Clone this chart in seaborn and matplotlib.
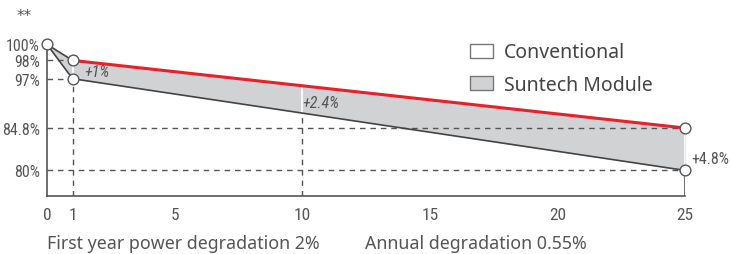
import numpy as np
import pandas as pd
import seaborn as sns
import matplotlib.pyplot as plt
from matplotlib import font_manager
from matplotlib.patches import Patch

# data
years = [0, 1, 25]
suntech = [100, 98, 84.8]
conventional = [100, 97, 80]
gap_labels = ["+1%", "+2.4%", "+4.8%"]
xticks = [0, 1, 5, 10, 15, 20, 25]
yticks = [80, 84.8, 97, 98, 100]
ytick_labels = ["80%", "84.8%", "97%", "98%", "100%"]

# the y axis in the picture is stretched piecewise
scale_vals = [77, 80, 84.8, 97, 98, 100]
scale_px = [0, 25.6, 68, 117.3, 135.6, 151.6]


def fwd(v):
    return np.interp(v, scale_vals, scale_px)


def inv(p):
    return np.interp(p, scale_px, scale_vals)


sns.set_theme(style="white")

installed = {f.name for f in font_manager.fontManager.ttflist}
narrow = "DejaVu Sans"
for cand in ["Roboto Condensed", "Liberation Sans Narrow", "Open Sans Condensed", "Roboto"]:
    if cand in installed:
        narrow = cand
        break
grey = "#555555"
tick_size = 12.5 if narrow != "Roboto" else 10.5
ytick_size = 11.5 if narrow != "Roboto" else 9.5
gap_size = 11.5 if narrow != "Roboto" else 10

fig = plt.figure(figsize=(7.31, 2.55), dpi=100)
ax = fig.add_axes([47 / 731, 58 / 255, 638 / 731, 151.6 / 255])
ax.set_yscale("function", functions=(fwd, inv))
ax.set_xlim(0, 25)
ax.set_ylim(77, 100)

df = pd.DataFrame({"year": years, "suntech": suntech, "conventional": conventional})

ax.fill_between(df["year"], df["suntech"], df["conventional"], color="#d1d2d4", lw=0, zorder=1)

# dashed guides
dash = dict(color=grey, lw=1, ls=(0, (4, 3.5)), zorder=1.5)
ax.plot([0, 1], [98, 98], **dash)
ax.plot([0, 1], [97, 97], **dash)
ax.plot([0, 25], [84.8, 84.8], **dash)
ax.plot([0, 25], [80, 80], **dash)
ax.plot([1, 1], [77, 97], **dash)


# value at a year along the straight drawn lines
def on_line(x, y0, y1):
    return inv(np.interp(x, [1, 25], [fwd(y0), fwd(y1)]))


top10 = on_line(10, suntech[1], suntech[2])
bot10 = on_line(10, conventional[1], conventional[2])
ax.plot([10, 10], [77, bot10], **dash)

# white separators
ax.plot([1, 1], [97, 98], color="white", lw=1.2, zorder=2)
ax.plot([10, 10], [bot10, top10], color="white", lw=1.2, zorder=2)
ax.plot([25, 25], [80, 84.8], color="white", lw=1.2, zorder=2)
ax.plot([25, 25], [77, 80], color=grey, lw=1.2, zorder=2)

sns.lineplot(data=df, x="year", y="conventional", color="#444444", lw=1.2, ax=ax, zorder=3)
ax.plot(years[:2], suntech[:2], color="#444444", lw=1.2, zorder=3)
sns.lineplot(data=df.iloc[1:], x="year", y="suntech", color="#e8202a", lw=2.2, ax=ax, zorder=3)

ax.scatter([0, 1, 1, 25, 25], [100, 98, 97, 84.8, 80], s=60, facecolor="white",
           edgecolor=grey, lw=1, zorder=5, clip_on=False)

# gap labels
ax.text(1.45, 97.4, gap_labels[0], color=grey, fontsize=gap_size, style="italic",
        family=narrow, va="center", ha="left")
ax.text(10.0, 91.2, gap_labels[1], color=grey, fontsize=gap_size, style="italic",
        family=narrow, va="center", ha="left")
ax.text(25.25, 81.4, gap_labels[2], color=grey, fontsize=gap_size, family=narrow,
        va="center", ha="left", clip_on=False)

for s in ["top", "right"]:
    ax.spines[s].set_visible(False)
ax.spines["left"].set_bounds(77, 100)
ax.spines["bottom"].set_bounds(0, 25)
for s in ["left", "bottom"]:
    ax.spines[s].set_color(grey)
    ax.spines[s].set_linewidth(1.2)

ax.set_xticks(xticks)
ax.set_xticklabels([str(t) for t in xticks], family=narrow, fontsize=tick_size, color=grey)
ax.set_yticks(yticks)
ax.set_yticklabels(ytick_labels, family=narrow, fontsize=ytick_size, color=grey)
ax.tick_params(axis="y", length=0, pad=5)
ax.tick_params(axis="x", length=0, pad=8)
ax.set_xlabel("")
ax.set_ylabel("")

handles = [Patch(facecolor="white", edgecolor="#777777", lw=1),
           Patch(facecolor="#d1d2d4", edgecolor="#777777", lw=1)]
fig.legend(handles, ["Conventional", "Suntech Module"], loc="upper left",
           bbox_to_anchor=(452 / 731, 1 - 26 / 255), frameon=False,
           prop={"family": "Noto Sans", "size": 14}, labelcolor="#444444",
           handlelength=1.2, handleheight=0.7, handletextpad=0.55, labelspacing=0.62)

fig.text(17 / 731, 1 - 17 / 255, "**", color=grey, fontsize=11, va="center", ha="left",
         family="DejaVu Sans")
fig.text(47 / 731, 1 - 244 / 255, "First year power degradation 2%",
         color=grey, fontsize=12.8, family="Noto Sans", va="center", ha="left")
fig.text(365 / 731, 1 - 244 / 255, "Annual degradation 0.55%",
         color=grey, fontsize=12.8, family="Noto Sans", va="center", ha="left")

fig.savefig("out.png", dpi=100)
